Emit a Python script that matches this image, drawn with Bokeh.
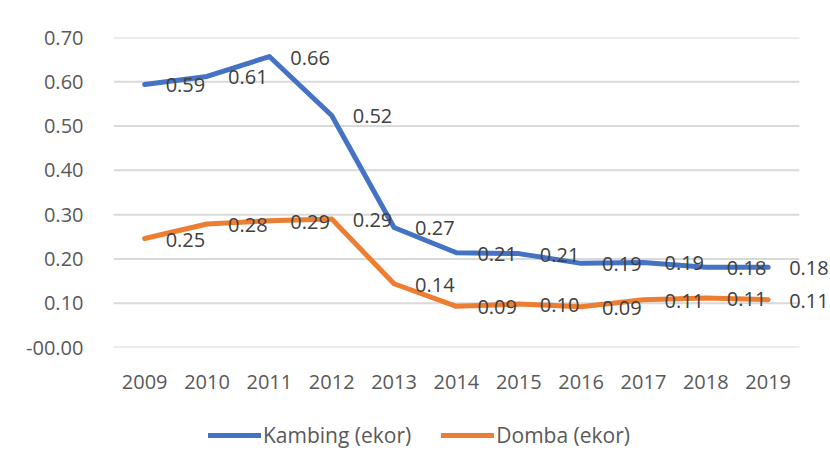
from bokeh.plotting import figure
from bokeh.layouts import column
from bokeh.models import (ColumnDataSource, Range1d, FixedTicker,
                          Legend, LegendItem, PrintfTickFormatter, LabelSet)
from bokeh.core.properties import value
from bokeh.embed import file_html
from bokeh.resources import INLINE

years = ["2009", "2010", "2011", "2012", "2013", "2014", "2015", "2016", "2017", "2018", "2019"]
kambing = [0.594, 0.612, 0.657, 0.524, 0.271, 0.214, 0.212, 0.190, 0.192, 0.181, 0.181]
domba = [0.246, 0.279, 0.286, 0.290, 0.144, 0.093, 0.098, 0.092, 0.108, 0.112, 0.108]
y_ticks = [0.0, 0.1, 0.2, 0.3, 0.4, 0.5, 0.6, 0.7]
series_names = ["Kambing (ekor)", "Domba (ekor)"]
colors = ["#4472C4", "#ED7D31"]

FONT = "Open Sans"
TXT = "#595959"
FS = "20px"

n = len(years)
xpos = [i + 0.5 for i in range(n)]  # category centres
src = ColumnDataSource(dict(
    x=xpos, k=kambing, d=domba,
    kl=[f"{v:.2f}" for v in kambing],
    dl=[f"{v:.2f}" for v in domba],
))

# frame runs past the last category so the end labels are not clipped
p = figure(width=830, height=400, x_range=Range1d(0, n + 0.5), y_range=Range1d(0, 0.7),
           output_backend="svg", toolbar_location=None,
           min_border_left=113, min_border_right=0, min_border_top=37, min_border_bottom=53)
p.outline_line_color = None
p.grid.grid_line_color = None
# gridlines over the category area only
p.segment(x0=[0] * len(y_ticks), x1=[n] * len(y_ticks), y0=y_ticks, y1=y_ticks,
          line_color="#d9d9d9", line_width=2)

p.yaxis.ticker = FixedTicker(ticks=y_ticks)
p.yaxis.formatter = PrintfTickFormatter(format="%.2f")
p.yaxis.major_label_overrides = {0: "-00.00"}
p.xaxis.ticker = FixedTicker(ticks=xpos)
p.xaxis.major_label_overrides = {x: y for x, y in zip(xpos, years)}
for ax in (p.xaxis[0], p.yaxis[0]):
    ax.axis_line_color = None
    ax.major_tick_line_color = None
    ax.minor_tick_line_color = None
    ax.major_label_text_font = FONT
    ax.major_label_text_font_size = FS
    ax.major_label_text_color = TXT
p.yaxis.major_label_standoff = 24
p.xaxis.major_label_standoff = 21

p.line("x", "k", source=src, line_color=colors[0], line_width=5, line_cap="round", line_join="round")
p.line("x", "d", source=src, line_color=colors[1], line_width=5, line_cap="round", line_join="round")

for col, ycol in (("kl", "k"), ("dl", "d")):
    p.add_layout(LabelSet(x="x", y=ycol, text=col, source=src, x_offset=21, y_offset=-1,
                          text_font=value(FONT), text_font_size=value(FS), text_color=value("#404040"),
                          text_baseline="middle", text_align="left"))

# legend strip
p2 = figure(width=830, height=65, x_range=Range1d(0, 1), y_range=Range1d(0, 1),
            output_backend="svg", toolbar_location=None,
            x_axis_location=None, y_axis_location=None,
            min_border_left=0, min_border_right=0, min_border_top=0, min_border_bottom=0)
p2.grid.grid_line_color = None
p2.outline_line_color = None
items = []
for name, c in zip(series_names, colors):
    r = p2.line([5, 6], [5, 5], line_color=c, line_width=5, line_cap="round")
    items.append(LegendItem(label=name, renderers=[r]))
legend = Legend(items=items, orientation="horizontal", location=(95, 16))
legend.label_text_font = FONT
legend.label_text_font_size = "21px"
legend.label_text_color = TXT
legend.glyph_width = 53
legend.label_standoff = 2
legend.spacing = 30
legend.padding = 0
legend.margin = 0
legend.border_line_color = None
legend.background_fill_alpha = 0
p2.add_layout(legend)

layout = column(p, p2, spacing=0)
open("out.html", "w").write(file_html(layout, INLINE))
